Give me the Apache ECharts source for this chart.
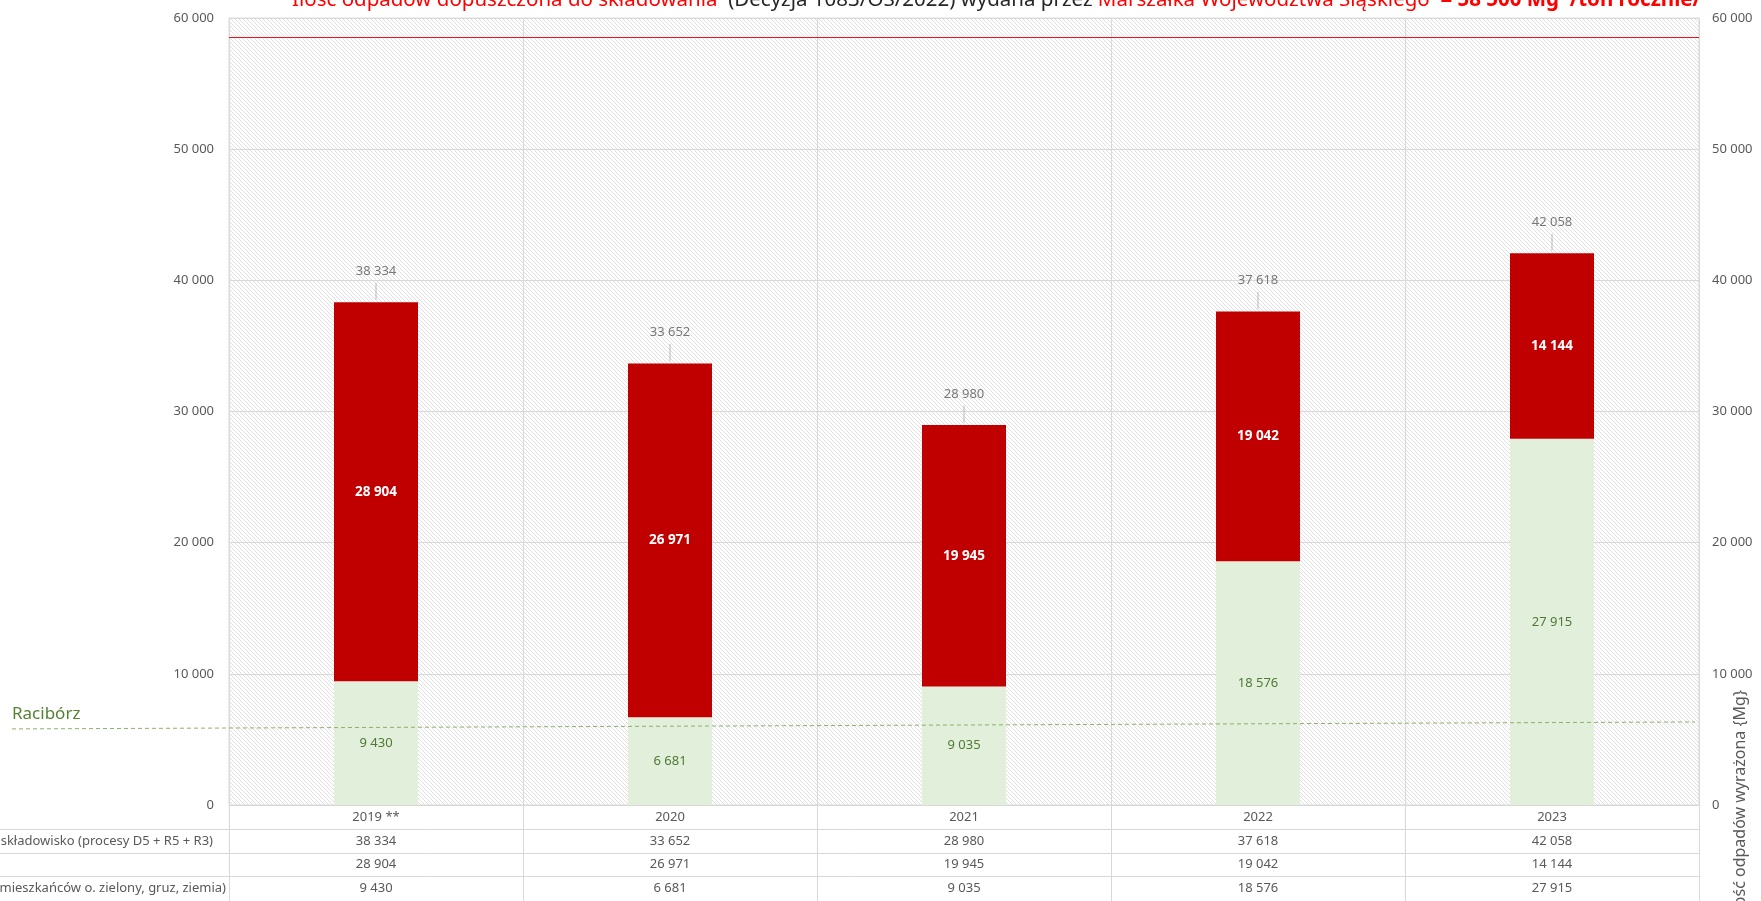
<!DOCTYPE html>
<html>
<head>
<meta charset="utf-8">
<script src="https://cdn.jsdelivr.net/npm/echarts@6/dist/echarts.min.js"></script>
<style>
  html, body { margin: 0; padding: 0; background: #fff; }
  #main { width: 1761px; height: 901px; }
</style>
</head>
<body>
<div id="main"></div>
<script>
  // data
  var years = ['2019 **', '2020', '2021', '2022', '2023']
  var totals = [38334, 33652, 28980, 37618, 42058]
  var redValues = [28904, 26971, 19945, 19042, 14144]
  var greenValues = [9430, 6681, 9035, 18576, 27915]
  var limitValue = 58500
  var raciborzLine = [[0, 5800], [1, 6330]]
  var rowNames = ['na składowisko (procesy D5 + R5 + R3)', 'od mieszkańców o. zielony, gruz, ziemia)']

  var font = '"Noto Sans", sans-serif'
  var grey = '#595959'
  var lineGrey = '#d9d9d9'

  function fmt (v) {
    return String(v).replace(/\B(?=(\d{3})+(?!\d))/g, ' ')
  }

  // diagonal hatch for the plot area
  var hatch = document.createElement('canvas')
  hatch.width = 4
  hatch.height = 4
  var hctx = hatch.getContext('2d')
  hctx.fillStyle = '#ffffff'
  hctx.fillRect(0, 0, 4, 4)
  hctx.strokeStyle = '#e0e0e0'
  hctx.lineWidth = 1
  hctx.beginPath()
  ;[-4, 0, 4].forEach(function (o) {
    hctx.moveTo(o, 0)
    hctx.lineTo(o + 4, 4)
  })
  hctx.stroke()

  var chart = echarts.init(document.getElementById('main'))

  var rowY = [829.5, 853.5, 876.5]
  var graphics = []
  rowY.forEach(function (y) {
    graphics.push({
      type: 'line', silent: true,
      shape: { x1: 0, y1: y, x2: 1699, y2: y },
      style: { stroke: lineGrey, lineWidth: 1 }
    })
  })
  graphics.push({
    type: 'text', x: 213, y: 841, silent: true,
    style: { text: rowNames[0], fill: grey, font: '13px ' + font, textAlign: 'right', textVerticalAlign: 'middle' }
  })
  graphics.push({
    type: 'text', x: 226, y: 888, silent: true,
    style: { text: rowNames[1], fill: grey, font: '13px ' + font, textAlign: 'right', textVerticalAlign: 'middle' }
  })
  graphics.push({
    type: 'text', x: 12, y: 714, silent: true,
    style: { text: 'Racibórz', fill: '#548235', font: '17px ' + font, textVerticalAlign: 'middle' }
  })
  graphics.push({
    type: 'text', x: 1740, y: 690, rotation: Math.PI / 2, silent: true,
    style: { text: 'Ilość odpadów wyrażona {Mg}', fill: grey, font: '16px ' + font, textAlign: 'right', textVerticalAlign: 'middle' }
  })
  graphics.push({
    type: 'text', x: 292, y: 13, silent: true,
    style: {
      text: '{r|Ilość odpadów dopuszczona do składowania}{k|  (Decyzja 1083/OS/2022) wydana przez }{r|Marszałka Województwa Śląskiego}{b|  = 58 500 Mg  /ton rocznie/}',
      textVerticalAlign: 'bottom',
      rich: {
        r: { fill: '#ff0000', fontSize: 20.5, fontFamily: 'Noto Sans', lineHeight: 25 },
        k: { fill: '#262626', fontSize: 20.5, fontFamily: 'Noto Sans', lineHeight: 25 },
        b: { fill: '#ff0000', fontSize: 20.5, fontFamily: 'Noto Sans', fontWeight: 'bold', lineHeight: 25 }
      }
    }
  })

  function tableAxis (values, offset) {
    return {
      type: 'category', gridIndex: 0, position: 'bottom', offset: offset,
      data: values.map(fmt),
      axisLine: { show: false }, axisTick: { show: false }, splitLine: { show: false },
      axisLabel: { interval: 0, margin: 6, color: grey, fontSize: 13, fontFamily: font }
    }
  }

  chart.setOption({
    animation: false,
    backgroundColor: '#ffffff',
    textStyle: { fontFamily: font },
    graphic: graphics,
    grid: [
      { left: 229, right: 62, top: 18, bottom: 96, show: true, borderColor: lineGrey, borderWidth: 1,
        backgroundColor: { image: hatch, repeat: 'repeat' } },
      { left: 12, right: 66, top: 18, bottom: 96 }
    ],
    xAxis: [
      {
        type: 'category', gridIndex: 0, position: 'bottom', data: years,
        axisLine: { lineStyle: { color: lineGrey } },
        axisTick: { show: true, interval: 0, length: 96, lineStyle: { color: lineGrey } },
        splitLine: { show: true, interval: 0, lineStyle: { color: lineGrey } },
        axisLabel: { interval: 0, margin: 6, color: grey, fontSize: 13, fontFamily: font }
      },
      tableAxis(totals, 23.5),
      tableAxis(redValues, 47),
      tableAxis(greenValues, 70.5),
      { type: 'value', gridIndex: 1, min: 0, max: 1, show: false }
    ],
    yAxis: [
      {
        type: 'value', gridIndex: 0, position: 'left', min: 0, max: 60000, interval: 10000,
        axisLine: { show: false }, axisTick: { show: false },
        splitLine: { lineStyle: { color: lineGrey } },
        axisLabel: { margin: 15, color: grey, fontSize: 13, fontFamily: font, formatter: fmt }
      },
      {
        type: 'value', gridIndex: 0, position: 'right', min: 0, max: 60000, interval: 10000,
        axisLine: { show: false }, axisTick: { show: false }, splitLine: { show: false },
        axisLabel: { margin: 13, color: grey, fontSize: 13, fontFamily: font, formatter: fmt }
      },
      { type: 'value', gridIndex: 1, min: 0, max: 60000, show: false }
    ],
    series: [
      {
        name: 'od mieszkańców', type: 'bar', stack: 'a', barWidth: 84,
        xAxisIndex: 0, yAxisIndex: 0, data: greenValues,
        itemStyle: { color: '#e2efda' },
        label: { show: true, position: 'inside', color: '#4e7a35', fontSize: 13, formatter: function (p) { return fmt(p.value) } }
      },
      {
        name: 'składowane', type: 'bar', stack: 'a', barWidth: 84,
        xAxisIndex: 0, yAxisIndex: 0, data: redValues,
        itemStyle: { color: '#c00000' },
        label: { show: true, position: 'inside', color: '#ffffff', fontWeight: 'bold', fontSize: 13.5, formatter: function (p) { return fmt(p.value) } },
        markLine: {
          silent: true, symbol: 'none', label: { show: false },
          lineStyle: { color: '#e8141b', width: 1.2, type: 'solid' },
          data: [{ yAxis: limitValue }]
        }
      },
      {
        name: 'razem', type: 'scatter', xAxisIndex: 0, yAxisIndex: 0, data: totals,
        symbol: 'rect', symbolSize: [1, 17], symbolOffset: [0, -11], z: 5,
        itemStyle: { color: '#a6a6a6' },
        label: { show: true, position: 'top', distance: 5, color: grey, fontSize: 13, formatter: function (p) { return fmt(p.value) } }
      },
      {
        name: 'Racibórz', type: 'line', xAxisIndex: 4, yAxisIndex: 2, data: raciborzLine,
        symbol: 'none', silent: true, z: 4,
        lineStyle: { color: '#8fb06e', width: 1, type: [4, 3] }
      }
    ]
  })
</script>
</body>
</html>
